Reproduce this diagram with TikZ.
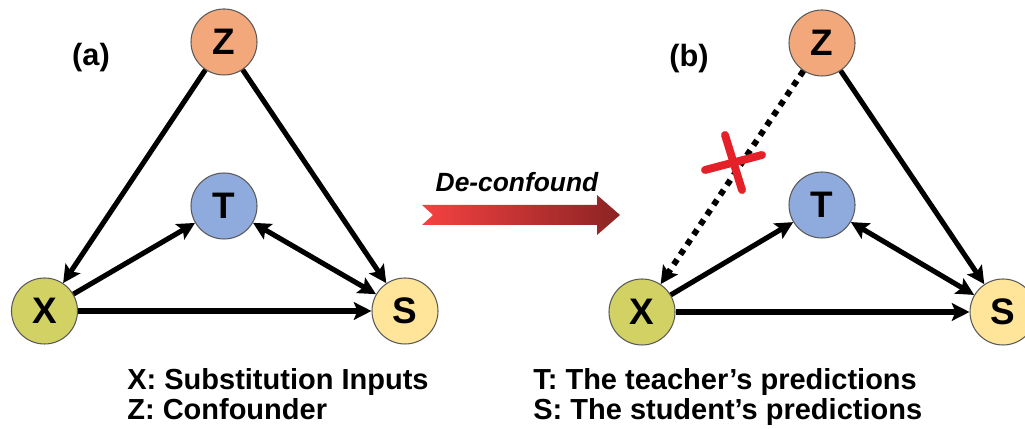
\documentclass[tikz,border=0pt]{standalone}
\usepackage{fontspec}
\setmainfont{Liberation Sans}
\usetikzlibrary{arrows.meta}

\definecolor{zfill}{RGB}{242,168,122}
\definecolor{tfill}{RGB}{143,170,220}
\definecolor{xfill}{RGB}{210,210,100}
\definecolor{sfill}{RGB}{255,229,153}
\definecolor{crossred}{RGB}{228,32,40}
\definecolor{arrowlight}{RGB}{245,65,65}
\definecolor{arrowdark}{RGB}{140,35,35}

\begin{document}
\begin{tikzpicture}[
        var/.style={circle, draw=black!65, line width=0.6pt, minimum size=1.32cm, inner sep=0pt, font=\fontsize{21}{21}\selectfont\bfseries},
        edge/.style={line width=2.9pt, -{Stealth[length=10pt,width=10pt,inset=2pt]}},
        biedge/.style={line width=2.9pt, {Stealth[length=10pt,width=10pt,inset=2pt]}-{Stealth[length=10pt,width=10pt,inset=2pt]}},
        cutedge/.style={edge, line width=3.4pt, dash pattern=on 3.4pt off 3.4pt},
        panel/.style={font=\fontsize{17.5}{17.5}\selectfont\bfseries},
        legend/.style={anchor=base west, inner sep=0pt, font=\fontsize{16.5}{16.5}\selectfont\bfseries}
    ]
    \useasboundingbox (0, 0) rectangle (20.5, 8.58);

    % (a)
    \node[panel] (la) at (1.82, 7.43) {(a)};
    \node[var, fill=zfill] (za) at (4.48, 7.74) {Z};
    \node[var, fill=tfill] (ta) at (4.48, 4.46) {T};
    \node[var, fill=xfill] (xa) at (0.89, 2.36) {X};
    \node[var, fill=sfill] (sa) at (8.10, 2.36) {S};

    \draw[edge] (za) -- (xa);
    \draw[edge] (za) -- (sa);
    \draw[edge] (xa) -- (ta);
    \draw[biedge] (ta) -- (sa);
    \draw[edge] (xa) -- (sa);

    % arrow between the panels
    \shade[left color=arrowlight, right color=arrowdark]
        (8.44, 4.48) -- (11.94, 4.48) -- (11.94, 4.68) -- (12.40, 4.28) -- (11.94, 3.88)
        -- (11.94, 4.08) -- (8.44, 4.08) -- (8.66, 4.28) -- cycle;
    \node[font=\fontsize{15}{15}\selectfont\bfseries\itshape] (deconf) at (10.34, 4.94) {De-confound};

    % (b)
    \node[panel] (lb) at (13.78, 7.41) {(b)};
    \node[var, fill=zfill] (zb) at (16.44, 7.72) {Z};
    \node[var, fill=tfill] (tb) at (16.44, 4.48) {T};
    \node[var, fill=xfill] (xb) at (12.84, 2.34) {X};
    \node[var, fill=sfill] (sb) at (20.06, 2.34) {S};

    \draw[cutedge] (zb) -- (xb);
    \draw[edge] (zb) -- (sb);
    \draw[edge] (xb) -- (tb);
    \draw[biedge] (tb) -- (sb);
    \draw[edge] (xb) -- (sb);

    \draw[crossred, line width=4.5pt, line cap=round] (14.10, 5.18) -- (15.24, 5.48);
    \draw[crossred, line width=4.5pt, line cap=round] (14.50, 5.88) -- (14.84, 4.78);

    % legend
    \node[legend] (lx) at (2.54, 0.78) {X: Substitution Inputs};
    \node[legend] (lz) at (2.54, 0.18) {Z: Confounder};
    \node[legend] (lt) at (10.66, 0.78) {T: The teacher’s predictions};
    \node[legend] (ls) at (10.66, 0.18) {S: The student’s predictions};
\end{tikzpicture}
\end{document}
